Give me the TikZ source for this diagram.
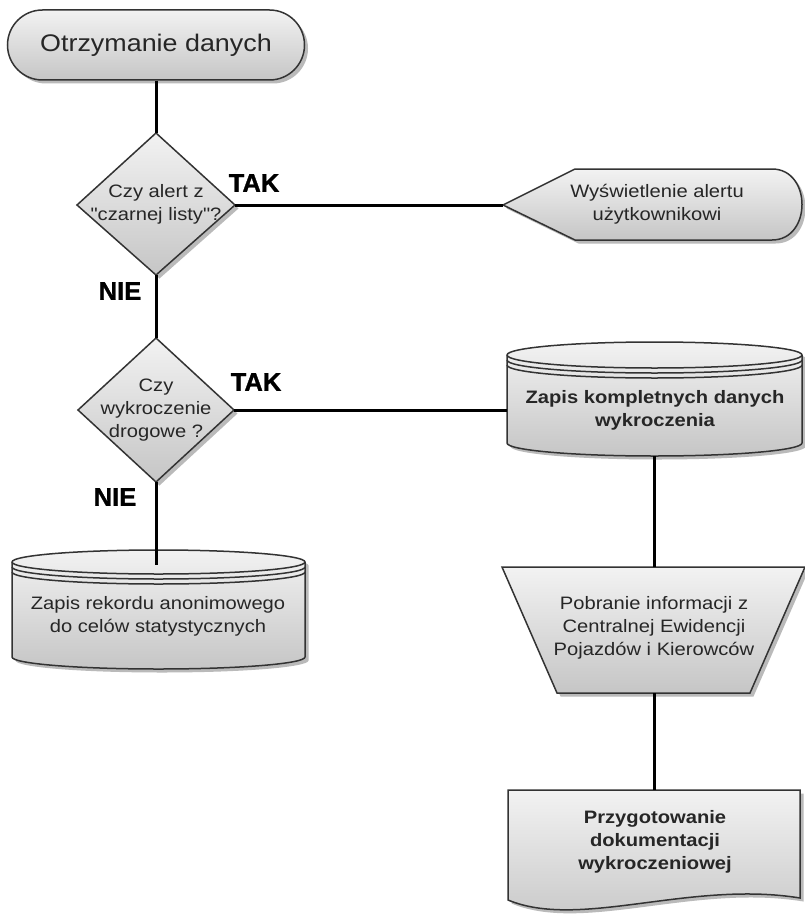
\documentclass[tikz,border=0pt]{standalone}
\usepackage{fontspec}
\setmainfont{Liberation Sans}[FakeStretch=1.12, Ligatures=TeXOff]
\newfontfamily\lblfont{Liberation Sans}[FakeBold=1.2]
\usetikzlibrary{shadows}
\newcommand{\dbshape}[5]{%
  \pgfmathsetmacro\dbL{#1}\pgfmathsetmacro\dbR{#2}%
  \pgfmathsetmacro\dbT{#3}\pgfmathsetmacro\dbB{#4}\pgfmathsetmacro\dbry{#5}%
  \pgfmathsetmacro\dbM{(\dbL+\dbR)/2}%
  \pgfmathsetmacro\dbk{0.5523*(\dbR-\dbL)/2}%
  \pgfmathsetmacro\dbky{0.5523*\dbry}%
  \path[shp] (\dbL,\dbT) -- (\dbL,\dbB)
    .. controls (\dbL,\dbB+\dbky) and (\dbM-\dbk,\dbB+\dbry) .. (\dbM,\dbB+\dbry)
    .. controls (\dbM+\dbk,\dbB+\dbry) and (\dbR,\dbB+\dbky) .. (\dbR,\dbB)
    -- (\dbR,\dbT)
    .. controls (\dbR,\dbT-\dbky) and (\dbM+\dbk,\dbT-\dbry) .. (\dbM,\dbT-\dbry)
    .. controls (\dbM-\dbk,\dbT-\dbry) and (\dbL,\dbT-\dbky) .. (\dbL,\dbT) -- cycle;
  \foreach \o in {0,5,10} {
    \draw[shpline] (\dbL,\dbT+\o)
      .. controls (\dbL,\dbT+\o+\dbky) and (\dbM-\dbk,\dbT+\o+\dbry) .. (\dbM,\dbT+\o+\dbry)
      .. controls (\dbM+\dbk,\dbT+\o+\dbry) and (\dbR,\dbT+\o+\dbky) .. (\dbR,\dbT+\o);
  }%
}
\begin{document}
\begin{tikzpicture}[x=1pt,y=-1pt,
  shp/.style={draw=black!80, line width=1.5pt, top color=gray!10, bottom color=gray!45,
    drop shadow={shadow xshift=3.5pt,shadow yshift=-3.5pt,fill=black!45,opacity=.6}},
  shpline/.style={draw=black!80, line width=1.5pt},
  conn/.style={draw=black, line width=3pt},
  txt/.style={align=center, text=black!85, font=\fontsize{18}{23}\selectfont, inner sep=0pt},
  btxt/.style={txt, font=\fontsize{18}{23}\selectfont\bfseries},
  lbl/.style={font=\lblfont\fontsize{25.5}{26}\selectfont\bfseries, inner sep=0pt, text=black}]
\useasboundingbox (0,0) rectangle (805,915);
\fill[white] (0,0) rectangle (805,915);

% start
\node[shp, txt, rectangle, rounded corners=35pt, minimum width=297pt, minimum height=70pt,
  font=\fontsize{24}{28}\selectfont] (start) at (156,45) {Otrzymanie danych};

% diamond 1
\coordinate (d1t) at (156,133);
\coordinate (d1r) at (235,205);
\coordinate (d1b) at (156,275);
\coordinate (d1l) at (77,205);
\path[shp] (d1t) -- (d1r) -- (d1b) -- (d1l) -- cycle;
\node[txt] (q1) at (156,204) {Czy alert z\\"czarnej listy"?};

% display
\coordinate (dispL) at (503,205);
\path[shp] (dispL) -- (575,169) -- (772,169) .. controls (812,169) and (812,240) .. (772,240) -- (575,240) -- cycle;
\node[txt] (disp) at (657,204) {Wyświetlenie alertu\\użytkownikowi};

% diamond 2
\coordinate (d2t) at (156,338);
\coordinate (d2r) at (234,410);
\coordinate (d2b) at (156,482);
\coordinate (d2l) at (78,410);
\path[shp] (d2t) -- (d2r) -- (d2b) -- (d2l) -- cycle;
\node[txt] (q2) at (156,410) {Czy\\wykroczenie\\drogowe ?};

% cylinder 1
\dbshape{507}{802}{355}{443}{13}
\coordinate (c1L) at (507,410);
\coordinate (c1B) at (654.5,456);
\node[btxt] (c1) at (655,410) {Zapis kompletnych danych\\wykroczenia};

% trapezoid
\path[shp] (502,567) -- (805,567) -- (750,693) -- (557,693) -- cycle;
\coordinate (trT) at (654.5,567);
\coordinate (trB) at (654.5,693);
\node[txt] (trap) at (654,628) {Pobranie informacji z\\Centralnej Ewidencji\\Pojazdów i Kierowców};

% document
\path[shp] (508,790) -- (800,790) -- (800,898) .. controls (690,880) and (580,930) .. (508,900) -- cycle;
\coordinate (docT) at (654.5,790);
\node[btxt] (doc) at (655,842) {Przygotowanie\\dokumentacji\\wykroczeniowej};

% cylinder 2
\dbshape{12}{305}{562}{657}{12}
\coordinate (c2in) at (156,565);
\node[txt] (c2) at (158,616) {Zapis rekordu anonimowego\\do celów statystycznych};

% connectors
\draw[conn] (start.south -| d1t) -- (d1t);
\draw[conn] (d1r) -- (dispL);
\draw[conn] (d1b) -- (d2t);
\draw[conn] (d2r) -- (c1L);
\draw[conn] (d2b) -- (c2in);
\draw[conn] (c1B) -- (trT);
\draw[conn] (trB) -- (docT);

% labels
\node[lbl] (tak1) at (254,183) {TAK};
\node[lbl] (nie1) at (120,291) {NIE};
\node[lbl] (tak2) at (256,382) {TAK};
\node[lbl] (nie2) at (115,497) {NIE};
\end{tikzpicture}
\end{document}
